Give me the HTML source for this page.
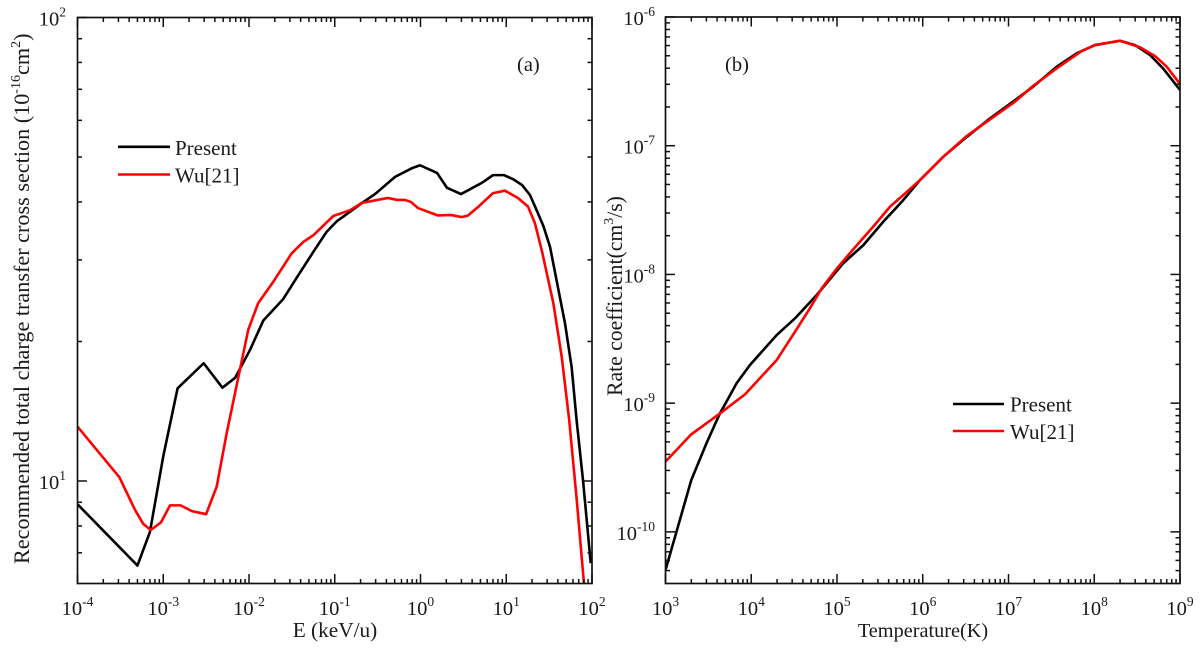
<!DOCTYPE html>
<html lang="en">
<head>
<meta charset="utf-8">
<title>Charge transfer cross section and rate coefficient</title>
<style>
html,body{margin:0;padding:0;background:#fff;}
svg{display:block;font-family:"Liberation Serif",serif;fill:#111;}
text{fill:#1a1a1a;}
</style>
</head>
<body>
<svg id="figure" xmlns="http://www.w3.org/2000/svg" width="1200" height="649" viewBox="0 0 1200 649">
  <defs>
    <clipPath id="clip-a"><rect x="77.5" y="17.5" width="514.5" height="566"></rect></clipPath>
    <clipPath id="clip-b"><rect x="665.5" y="17" width="514.5" height="566.5"></rect></clipPath>
  </defs>
  <g id="panel-a"></g>
  <g id="panel-b"></g>

  <text transform="translate(29 564) rotate(-90)" font-size="22.2">Recommended total charge transfer cross section (10<tspan dy="-9" font-size="14">-16</tspan><tspan dy="9">cm</tspan><tspan dy="-9" font-size="14">2</tspan><tspan dy="9">)</tspan></text>
  <text x="335" y="637" font-size="21.3" text-anchor="middle">E (keV/u)</text>
  <text x="517" y="71" font-size="20.5">(a)</text>
  <line x1="118" x2="170" y1="146.8" y2="146.8" stroke="#000" stroke-width="2.6"></line>
  <text x="175" y="155" font-size="21">Present</text>
  <line x1="118" x2="170" y1="174.5" y2="174.5" stroke="#f00" stroke-width="2.6"></line>
  <text x="175" y="182.5" font-size="21">Wu[21]</text>

  <text transform="translate(622 396) rotate(-90)" font-size="21.7">Rate coefficient(cm<tspan dy="-9" font-size="14">3</tspan><tspan dy="9">/s)</tspan></text>
  <text x="923" y="637" font-size="20.3" text-anchor="middle">Temperature(K)</text>
  <text x="725" y="71" font-size="20.5">(b)</text>
  <line x1="953" x2="1004" y1="404" y2="404" stroke="#000" stroke-width="2.6"></line>
  <text x="1010" y="411.5" font-size="21">Present</text>
  <line x1="953" x2="1004" y1="431" y2="431" stroke="#f00" stroke-width="2.6"></line>
  <text x="1010" y="439" font-size="21">Wu[21]</text>
</svg>
<script>
// Panel (a) data: energy (keV/u) vs. cross section (1e-16 cm^2)
var energyPresent = [1e-4,5e-4,7e-4,1e-3,1.47e-3,2.96e-3,4.9e-3,6.9e-3,1.03e-2,1.47e-2,2.51e-2,3.76e-2,5.62e-2,8.05e-2,0.105,0.151,0.208,0.295,0.505,0.796,0.987,1.56,2.04,2.97,5.21,7.01,9.42,12.0,15.3,18.9,22.6,27.1,32.4,48.4,57.9,66.2,78.5,96.6];
var sigmaPresent = [8.91,6.57,7.77,11.3,15.85,17.95,15.9,16.7,19.2,22.2,24.7,27.8,31.2,34.5,36.3,38.1,39.8,41.6,45.3,47.3,48.0,46.2,42.9,41.6,44.0,45.7,45.7,44.8,43.5,41.4,38.4,35.5,32.0,21.9,17.6,13.5,10.05,6.65];
var energyWu = [1e-4,3.07e-4,4.69e-4,5.85e-4,7.14e-4,9.4e-4,1.2e-3,1.6e-3,2.15e-3,3.16e-3,4.2e-3,5.5e-3,9.8e-3,1.28e-2,1.92e-2,3.15e-2,4.3e-2,5.62e-2,0.096,0.151,0.206,0.418,0.532,0.659,0.774,0.935,1.6,2.25,3.03,3.58,4.69,7.01,9.66,13.7,17.9,21.6,25.9,35.4,44.4,54.3,66.4,80.7];
var sigmaWu = [13.1,10.2,8.66,8.08,7.84,8.14,8.86,8.86,8.61,8.48,9.72,12.7,21.2,24.2,26.9,31.0,32.8,33.9,37.3,38.4,39.8,40.8,40.4,40.4,40.0,38.8,37.4,37.5,37.1,37.4,39.0,41.8,42.3,40.8,39.1,36.0,31.5,24.2,18.5,13.5,9.1,6.0];

// Panel (b) data: temperature (K) vs. rate coefficient (cm^3/s)
var tempPresent = [1e3,2e3,3e3,4.3e3,5.4e3,6.76e3,9.66e3,1.98e4,3.24e4,5.8e4,1.18e5,2.03e5,3.47e5,5.93e5,9.29e5,1.74e6,3.26e6,6.08e6,1.19e7,1.93e7,3.65e7,6.24e7,1.02e8,2e8,2.99e8,4.47e8,6.34e8,1e9];
var ratePresent = [5.05e-11,2.53e-10,4.87e-10,8.3e-10,1.09e-9,1.43e-9,1.98e-9,3.38e-9,4.56e-9,6.92e-9,1.22e-8,1.69e-8,2.57e-8,3.78e-8,5.41e-8,8.22e-8,1.17e-7,1.63e-7,2.26e-7,2.87e-7,4.11e-7,5.22e-7,6.05e-7,6.54e-7,6.05e-7,5.07e-7,3.99e-7,2.71e-7];
var tempWu = [1e3,2e3,4.3e3,8.45e3,1.26e4,1.98e4,3.24e4,4.75e4,6.64e4,9.93e4,1.55e5,2.54e5,4.15e5,5.93e5,9.29e5,1.74e6,3.26e6,6.08e6,1.19e7,1.93e7,3.65e7,7.14e7,1.02e8,2e8,3.41e8,5.1e8,7e8,1e9];
var rateWu = [3.51e-10,5.73e-10,8.3e-10,1.17e-9,1.56e-9,2.16e-9,3.59e-9,5.36e-9,7.8e-9,1.11e-8,1.57e-8,2.28e-8,3.36e-8,4.14e-8,5.41e-8,8.22e-8,1.19e-7,1.6e-7,2.2e-7,2.91e-7,3.99e-7,5.44e-7,6.05e-7,6.54e-7,5.82e-7,4.98e-7,4.11e-7,3.02e-7];

// Axis ticks (powers of ten)
var xExponentsA = ["-4","-3","-2","-1","0","1","2"];
var yExponentsA = ["2","1"];
var xExponentsB = ["3","4","5","6","7","8","9"];
var yExponentsB = ["-6","-7","-8","-9","-10"];

var NS = "http://www.w3.org/2000/svg";

function logScale(d0, d1, r0, r1) {
  var a = Math.log10(d0), b = Math.log10(d1);
  return function (v) { return r0 + (Math.log10(v) - a) / (b - a) * (r1 - r0); };
}

function makeLine(parent, x1, y1, x2, y2, width) {
  var l = document.createElementNS(NS, "line");
  l.setAttribute("x1", x1);
  l.setAttribute("y1", y1);
  l.setAttribute("x2", x2);
  l.setAttribute("y2", y2);
  l.setAttribute("stroke", "#111");
  l.setAttribute("stroke-width", width);
  parent.appendChild(l);
  return l;
}

function makePowerLabel(parent, exponent, x, y, anchor) {
  var t = document.createElementNS(NS, "text");
  t.setAttribute("x", x);
  t.setAttribute("y", y);
  t.setAttribute("text-anchor", anchor);
  t.setAttribute("font-size", "20.5");
  t.appendChild(document.createTextNode("10"));
  var s = document.createElementNS(NS, "tspan");
  s.setAttribute("dy", "-9");
  s.setAttribute("font-size", "13.5");
  s.textContent = exponent;
  t.appendChild(s);
  parent.appendChild(t);
  return t;
}

function makeSeries(parent, xs, ys, sx, sy, color, clip) {
  var pts = [];
  for (var i = 0; i < xs.length; i++) {
    pts.push(sx(xs[i]).toFixed(2) + "," + sy(ys[i]).toFixed(2));
  }
  var p = document.createElementNS(NS, "polyline");
  p.setAttribute("points", pts.join(" "));
  p.setAttribute("fill", "none");
  p.setAttribute("stroke", color);
  p.setAttribute("stroke-width", "2.6");
  p.setAttribute("stroke-linejoin", "round");
  p.setAttribute("clip-path", "url(#" + clip + ")");
  parent.appendChild(p);
  return p;
}

function drawFrame(g, box, sx, sy, xExps, yExps, yLabelRight) {
  var MAJOR = 9.5, MINOR = 4.5, W = 1.5;
  var i, k, v, px, py, tick;

  var frame = document.createElementNS(NS, "rect");
  frame.setAttribute("x", box.l);
  frame.setAttribute("y", box.t);
  frame.setAttribute("width", box.r - box.l);
  frame.setAttribute("height", box.b - box.t);
  frame.setAttribute("fill", "none");
  frame.setAttribute("stroke", "#111");
  frame.setAttribute("stroke-width", "1.7");
  
  
  g.appendChild(frame);

  for (i = 0; i < xExps.length; i++) {
    var xe = Math.pow(10, Number(xExps[i]));
    px = sx(xe);
    tick = makeLine(g, px, box.b, px, box.b - MAJOR, W);
    
    
    tick = makeLine(g, px, box.t, px, box.t + MAJOR, W);
    
    
    var xl = makePowerLabel(g, xExps[i], px, 615, "middle");
    
    
    if (i < xExps.length - 1) {
      for (k = 2; k <= 9; k++) {
        v = xe * k;
        px = sx(v);
        tick = makeLine(g, px, box.b, px, box.b - MINOR, W);
        
        
        tick = makeLine(g, px, box.t, px, box.t + MINOR, W);
        
        
      }
    }
  }

  var topExp = Number(yExps[0]);
  var lowExp = Number(yExps[yExps.length - 1]) - 1;
  for (var e = topExp; e >= lowExp; e--) {
    var ye = Math.pow(10, e);
    py = sy(ye);
    if (py <= box.b + 0.5 && py >= box.t - 0.5) {
      tick = makeLine(g, box.l, py, box.l + MAJOR, py, W);
      
      
      tick = makeLine(g, box.r, py, box.r - MAJOR, py, W);
      
      
    }
    for (k = 2; k <= 9; k++) {
      py = sy(ye * k);
      if (py <= box.b - 0.5 && py >= box.t + 0.5) {
        tick = makeLine(g, box.l, py, box.l + MINOR, py, W);
        
        
        tick = makeLine(g, box.r, py, box.r - MINOR, py, W);
        
        
      }
    }
  }
  for (i = 0; i < yExps.length; i++) {
    py = sy(Math.pow(10, Number(yExps[i])));
    var yl = makePowerLabel(g, yExps[i], yLabelRight, py + 8, "end");
    
    
  }
}

var boxA = { l: 77.5, r: 592, t: 17.5, b: 583.5 };
var sxA = logScale(1e-4, 1e2, boxA.l, boxA.r);
var syA = logScale(1e2, 6.01, boxA.t, boxA.b);
var gA = document.getElementById("panel-a");
var presentA = makeSeries(gA, energyPresent, sigmaPresent, sxA, syA, "#000", "clip-a");


var wuA = makeSeries(gA, energyWu, sigmaWu, sxA, syA, "#f00", "clip-a");


drawFrame(gA, boxA, sxA, syA, xExponentsA, yExponentsA, 66);

var boxB = { l: 665.5, r: 1180, t: 17, b: 583.5 };
var sxB = logScale(1e3, 1e9, boxB.l, boxB.r);
var syB = logScale(1e-6, 3.97e-11, boxB.t, boxB.b);
var gB = document.getElementById("panel-b");
var presentB = makeSeries(gB, tempPresent, ratePresent, sxB, syB, "#000", "clip-b");


var wuB = makeSeries(gB, tempWu, rateWu, sxB, syB, "#f00", "clip-b");


drawFrame(gB, boxB, sxB, syB, xExponentsB, yExponentsB, 655);
</script>
</body>
</html>
